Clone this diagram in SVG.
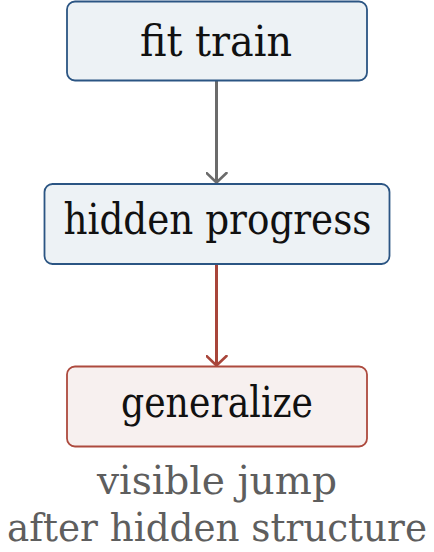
<svg xmlns="http://www.w3.org/2000/svg" width="434" height="552" viewBox="0 0 434 552">
<style>
  text { font-family: 'DejaVu Serif', 'Liberation Serif', serif; font-size: 42px; text-anchor: middle; }
  .lbl { fill: #111111; }
  .note { fill: #5e5e5e; font-size: 40px; }
  .blue { fill: #edf2f5; stroke: #2b5583; stroke-width: 1.8; }
  .red { fill: #f7f0ef; stroke: #ad4a3e; stroke-width: 1.8; }
</style>
<defs>
  <marker id="ahGrey" viewBox="0 0 12 22" refX="10.5" refY="11" markerWidth="12" markerHeight="22" markerUnits="userSpaceOnUse" orient="auto">
    <path d="M1,1 L10.5,11 L1,21" fill="none" stroke="#6b6b6b" stroke-width="2.6" stroke-linecap="round" stroke-linejoin="round"/>
  </marker>
  <marker id="ahRed" viewBox="0 0 12 22" refX="10.5" refY="11" markerWidth="12" markerHeight="22" markerUnits="userSpaceOnUse" orient="auto">
    <path d="M1,1 L10.5,11 L1,21" fill="none" stroke="#a8453a" stroke-width="2.6" stroke-linecap="round" stroke-linejoin="round"/>
  </marker>
</defs>
<g id="connectors">
  <path d="M216.5,81 L216.5,182.5" fill="none" stroke="#6b6b6b" stroke-width="3" marker-end="url(#ahGrey)"/>
  <path d="M216.5,264.5 L216.5,365.5" fill="none" stroke="#a8453a" stroke-width="3" marker-end="url(#ahRed)"/>
</g>
<g id="fit-train">
  <rect class="blue" x="67" y="1.5" width="300" height="79" rx="8"/>
  <text class="lbl" x="216" y="56" textLength="152" lengthAdjust="spacingAndGlyphs">fit train</text>
</g>
<g id="hidden-progress">
  <rect class="blue" x="44.5" y="184" width="345" height="80" rx="8"/>
  <text class="lbl" x="217.5" y="234" textLength="308" lengthAdjust="spacingAndGlyphs">hidden progress</text>
</g>
<g id="generalize">
  <rect class="red" x="67" y="366.5" width="300" height="80" rx="8"/>
  <text class="lbl" x="217" y="417" textLength="192" lengthAdjust="spacingAndGlyphs">generalize</text>
</g>
<g id="caption">
  <text class="note" x="217" y="494" textLength="240" lengthAdjust="spacingAndGlyphs">visible jump</text>
  <text class="note" x="217" y="541" textLength="420" lengthAdjust="spacingAndGlyphs">after hidden structure</text>
</g>
</svg>
